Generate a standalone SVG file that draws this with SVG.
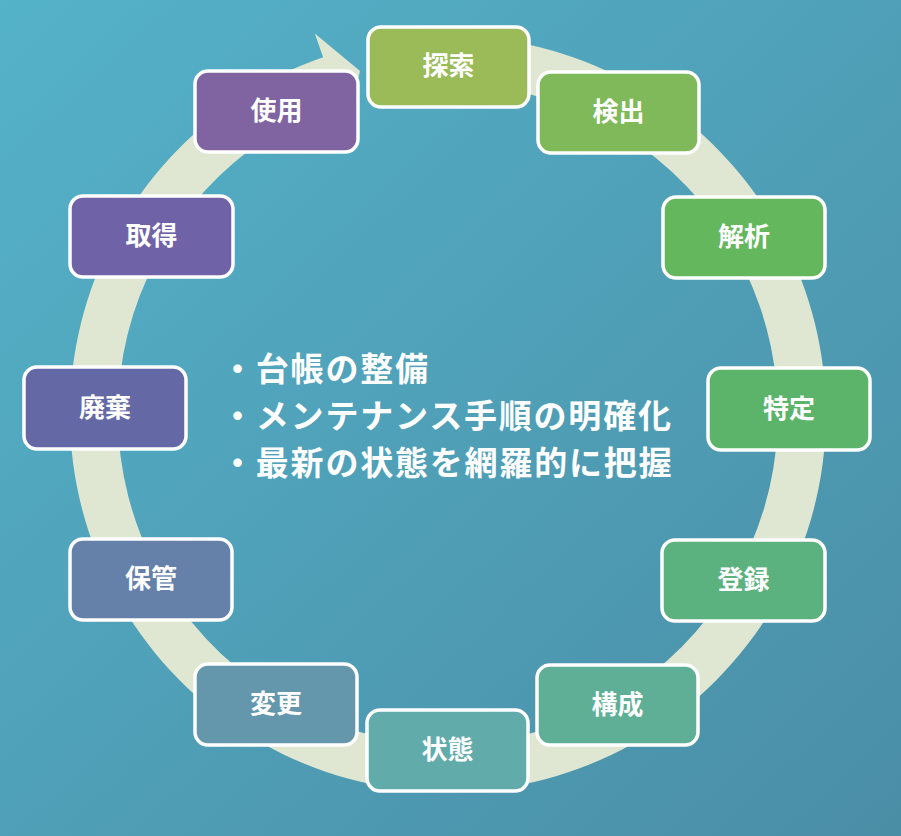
<svg xmlns="http://www.w3.org/2000/svg" width="901" height="836" viewBox="0 0 901 836">
<defs>
<linearGradient id="bg" x1="0" y1="0" x2="1" y2="1">
<stop offset="0" stop-color="#54b2c9"/>
<stop offset="1" stop-color="#4a8ea6"/>
</linearGradient>
<style>
.node rect{stroke:#ffffff;stroke-width:3.5}
.node text{font-family:"Noto Sans CJK JP","Noto Sans CJK SC",sans-serif;font-weight:bold;font-size:26px;fill:#ffffff;text-anchor:middle;dominant-baseline:central}
.center text{font-family:"Noto Sans CJK JP","Noto Sans CJK SC",sans-serif;font-weight:bold;font-size:33px;fill:#ffffff;letter-spacing:1.8px;dominant-baseline:central}
</style>
</defs>
<rect width="901" height="836" fill="url(#bg)"/>
<g id="connectors">
<path d="M 448 36 A 378 378 0 1 1 323.1 57.2 L 314.8 33.6 L 360 71 L 347.2 126.1 L 338.9 102.5 A 330 330 0 1 0 448 84 Z" fill="#dfe7d2"/>
</g>
<g id="node-tansaku" class="node"><rect x="368" y="27" width="161" height="80" rx="13" fill="#9bbb59"/><text x="448.5" y="63">探索</text></g>
<g id="node-kenshutsu" class="node"><rect x="538" y="72" width="161" height="81" rx="13" fill="#80b95a"/><text x="618.5" y="109">検出</text></g>
<g id="node-kaiseki" class="node"><rect x="663" y="197" width="162" height="81" rx="13" fill="#65b75e"/><text x="744" y="234">解析</text></g>
<g id="node-tokutei" class="node"><rect x="708" y="368" width="162" height="82" rx="13" fill="#5bb46a"/><text x="789" y="406">特定</text></g>
<g id="node-touroku" class="node"><rect x="662" y="540" width="163" height="81" rx="13" fill="#5cb27f"/><text x="743.5" y="577">登録</text></g>
<g id="node-kousei" class="node"><rect x="537" y="665" width="161" height="80" rx="13" fill="#5eaf96"/><text x="617.5" y="702">構成</text></g>
<g id="node-joutai" class="node"><rect x="367" y="710" width="161" height="81" rx="13" fill="#61acaa"/><text x="447.5" y="747">状態</text></g>
<g id="node-henkou" class="node"><rect x="195" y="664" width="162" height="81" rx="13" fill="#6497ab"/><text x="276" y="701">変更</text></g>
<g id="node-hokan" class="node"><rect x="70" y="539" width="162" height="81" rx="13" fill="#6581a9"/><text x="151" y="576">保管</text></g>
<g id="node-haiki" class="node"><rect x="24" y="367" width="162" height="82" rx="13" fill="#6469a6"/><text x="105" y="405">廃棄</text></g>
<g id="node-shutoku" class="node"><rect x="70" y="196" width="163" height="81" rx="13" fill="#6f62a6"/><text x="151.5" y="233">取得</text></g>
<g id="node-shiyou" class="node"><rect x="195" y="71" width="163" height="81" rx="13" fill="#8064a2"/><text x="276.5" y="108">使用</text></g>
<g id="center-text" class="center">
<text x="221" y="367">・台帳の整備</text>
<text x="221" y="414">・メンテナンス手順の明確化</text>
<text x="221" y="461">・最新の状態を網羅的に把握</text>
</g>
</svg>
